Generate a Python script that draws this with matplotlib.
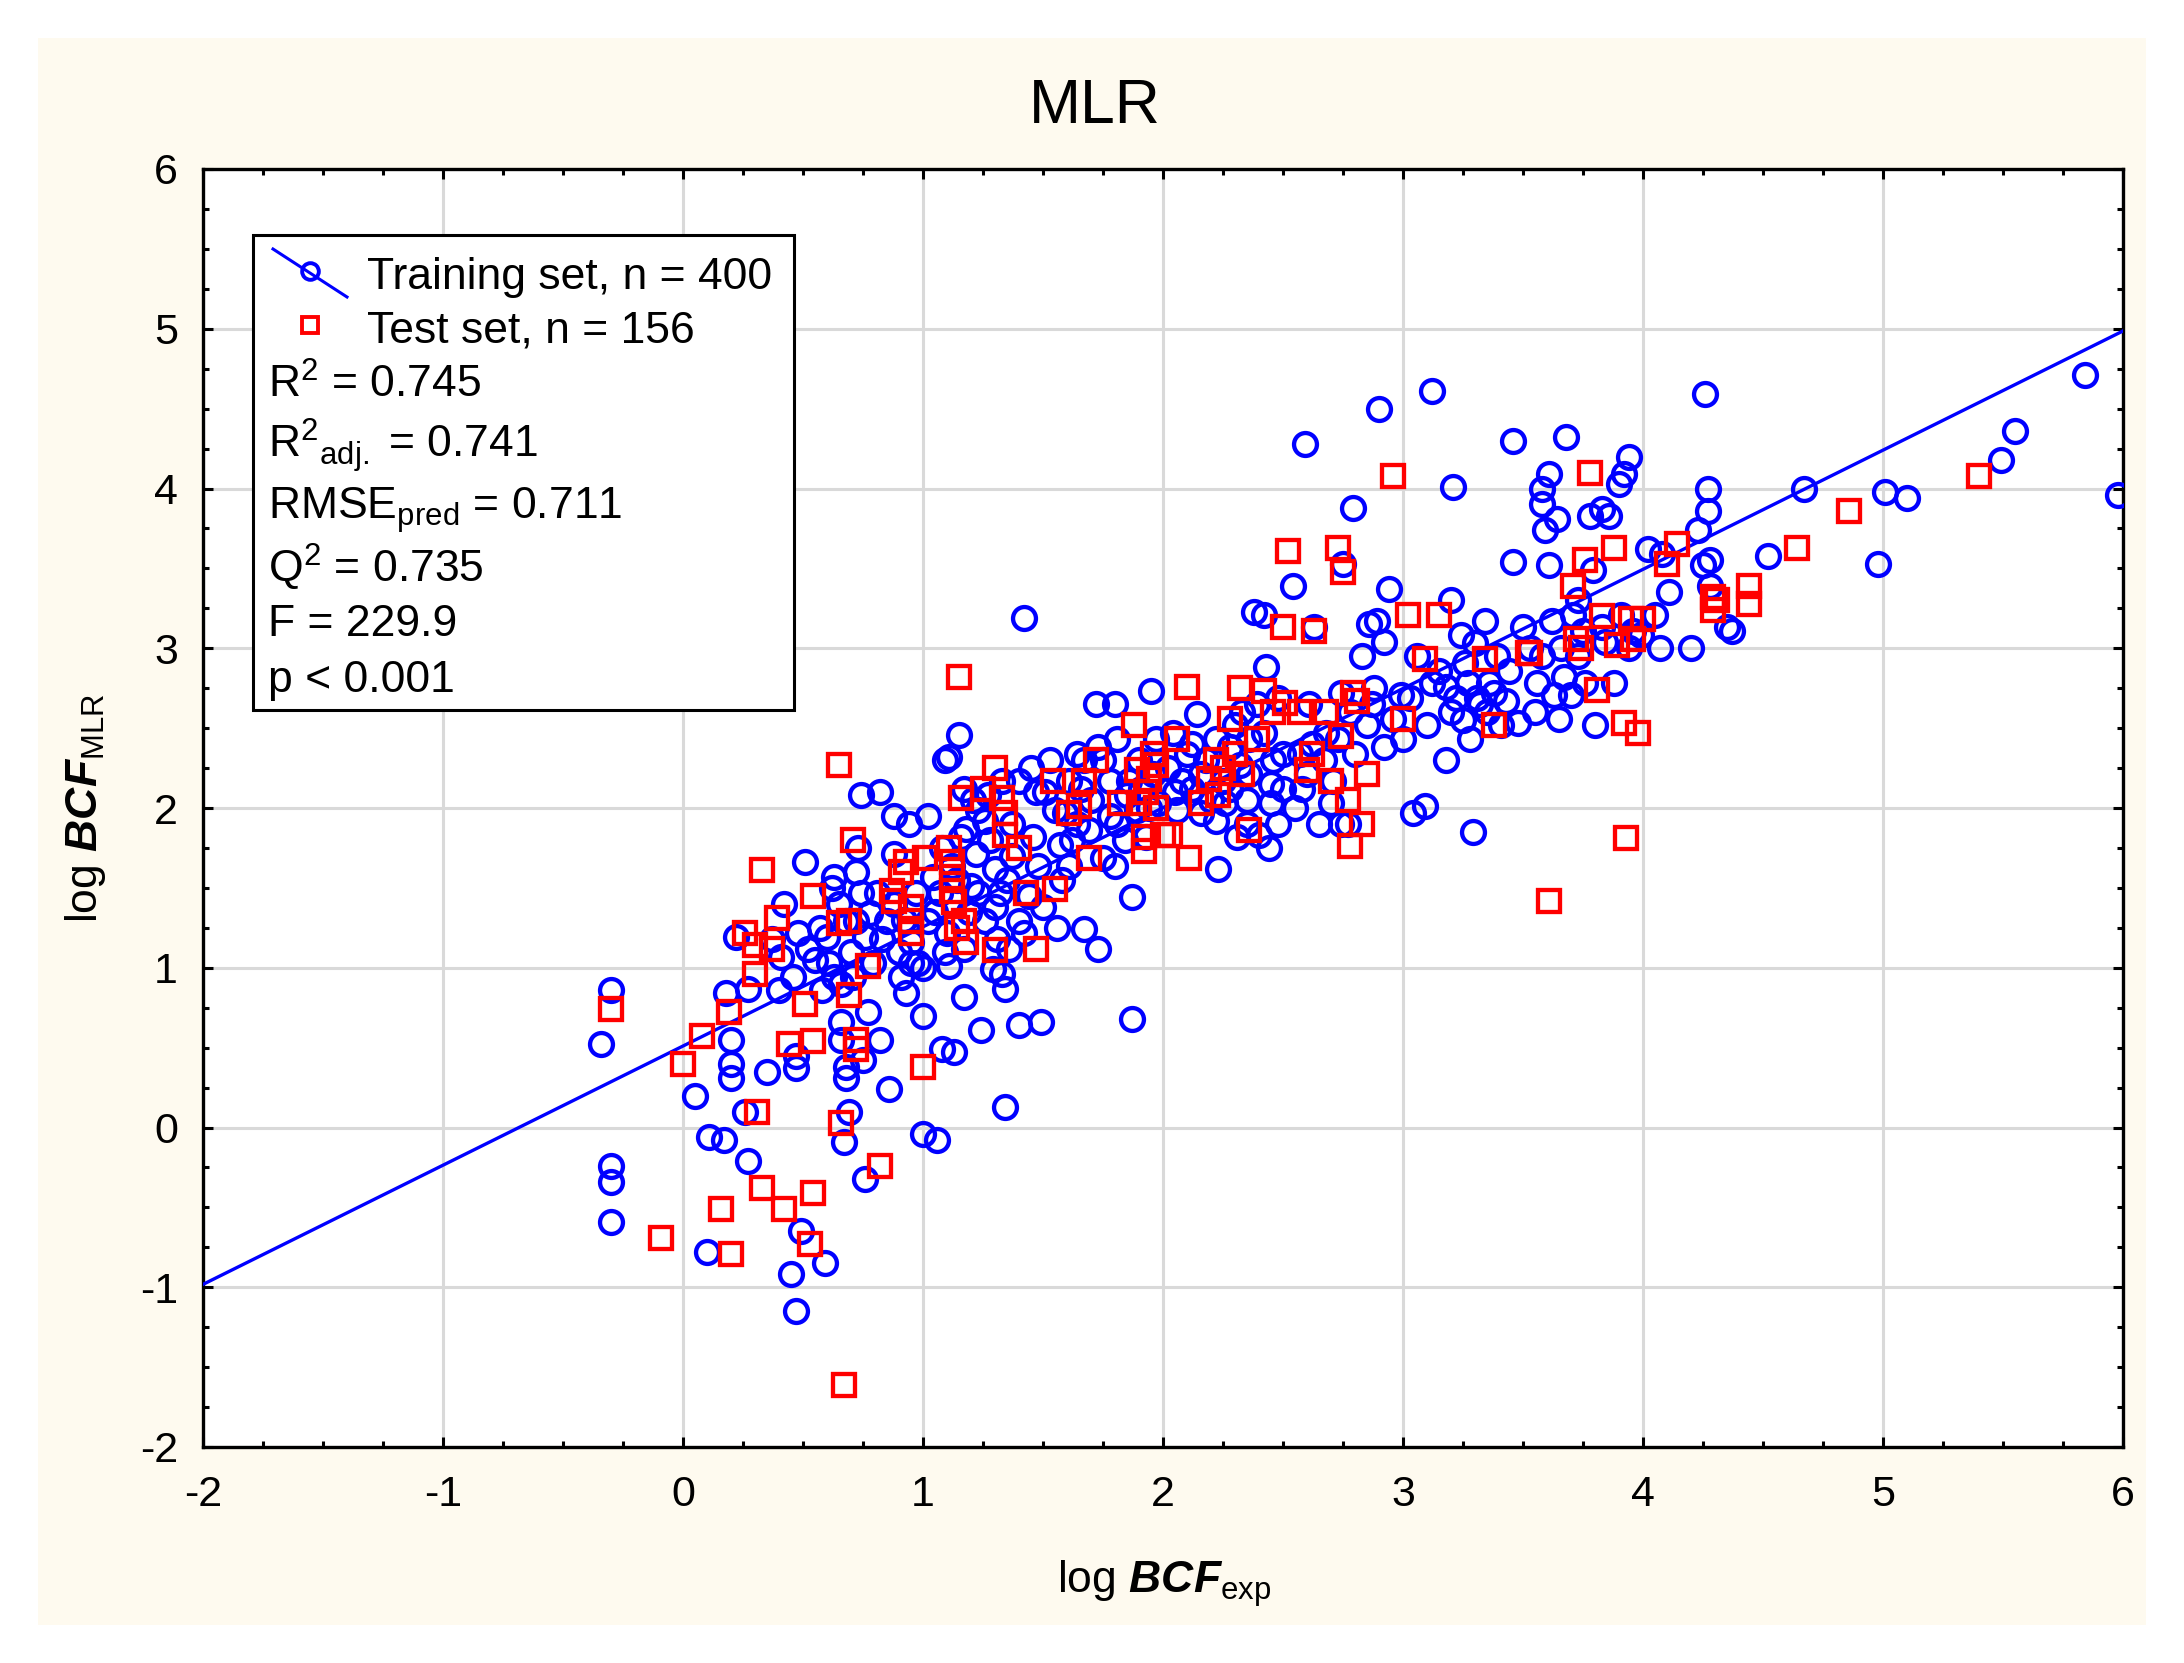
"""MLR model: predicted vs experimental log BCF (training / test sets)."""
import matplotlib
matplotlib.use("Agg")
import matplotlib.pyplot as plt
import numpy as np
from matplotlib.lines import Line2D
from matplotlib.patches import Rectangle
from matplotlib.ticker import MultipleLocator

W, H = 2184, 1663

# data: (log BCF exp, log BCF MLR)
train_pts = [
    (-0.34, 0.52), (-0.30, 0.86), (-0.30, -0.24), (-0.30, -0.34), (-0.30, -0.59),
    (0.05, 0.20), (0.10, -0.78), (0.11, -0.06), (0.17, -0.08), (0.18, 0.84),
    (0.20, 0.55), (0.20, 0.40), (0.20, 0.31), (0.22, 1.19), (0.26, 0.10),
    (0.27, -0.21), (0.27, 0.87), (0.35, 0.35), (0.40, 0.86), (0.42, 1.40),
    (0.45, -0.92), (0.47, -1.15), (0.47, 0.45), (0.47, 0.37), (0.49, -0.65),
    (0.41, 1.07), (0.37, 1.18), (0.51, 1.66), (0.48, 1.22), (0.52, 1.12),
    (0.55, 1.05), (0.46, 0.94),
    (0.59, -0.85), (0.58, 0.86), (0.60, 1.19), (0.63, 1.57), (0.65, 1.40),
    (0.66, 0.90), (0.66, 0.66), (0.66, 0.55), (0.68, 0.31), (0.68, 0.38),
    (0.67, -0.09), (0.69, 0.10), (0.71, 0.94), (0.72, 1.60), (0.73, 1.75),
    (0.74, 2.08), (0.75, 0.42), (0.76, -0.32), (0.77, 0.72), (0.79, 1.03),
    (0.82, 2.10), (0.82, 0.55), (0.86, 0.24), (0.88, 1.71), (0.88, 1.95),
    (0.91, 0.94), (0.93, 0.84), (0.94, 1.90), (0.95, 1.03), (0.95, 1.16),
    (0.97, 1.47), (0.98, 1.03), (1.00, 1.00), (1.00, 0.70), (0.74, 1.47),
    (0.78, 1.34), (0.81, 1.47), (0.63, 0.94), (0.61, 1.03), (0.68, 1.29),
    (0.72, 1.29), (0.76, 1.19), (0.85, 1.29), (0.88, 1.40), (0.57, 1.25),
    (0.62, 1.50), (0.70, 1.10), (0.83, 1.18), (0.90, 1.10), (0.92, 1.30),
    (1.00, -0.04), (1.06, -0.08), (1.02, 1.29), (1.02, 1.95), (1.08, 0.49),
    (1.09, 2.30), (1.11, 2.32), (1.13, 0.47), (1.15, 2.46), (1.17, 0.82),
    (1.17, 2.12), (1.18, 1.87), (1.23, 1.99), (1.24, 0.61), (1.27, 2.08),
    (1.29, 0.99), (1.30, 1.62), (1.32, 1.47), (1.33, 0.96), (1.34, 0.13),
    (1.34, 0.87), (1.36, 1.12), (1.37, 1.70), (1.40, 0.64), (1.42, 3.19),
    (1.45, 2.25), (1.47, 2.10), (1.49, 0.66), (1.50, 1.38), (1.40, 1.29),
    (1.42, 1.22), (1.23, 1.47), (1.26, 1.29), (1.16, 1.82), (1.12, 1.64),
    (1.07, 1.47), (1.04, 1.57), (1.10, 1.22), (1.20, 1.51), (1.30, 1.38),
    (1.37, 1.90), (1.33, 2.17), (1.22, 1.71), (1.46, 1.82), (1.48, 1.64),
    (1.17, 1.12), (1.11, 1.01), (1.40, 2.17), (1.26, 1.92), (1.05, 1.35),
    (1.14, 1.55), (1.19, 1.35), (1.28, 1.80), (1.35, 1.55), (1.44, 1.45),
    (1.08, 1.75), (1.21, 2.05), (1.31, 1.18), (1.09, 1.10),
    (1.51, 2.10), (1.53, 2.30), (1.55, 1.99), (1.57, 1.77), (1.58, 1.55),
    (1.56, 1.25), (1.61, 2.17), (1.64, 1.90), (1.67, 2.30), (1.67, 1.24),
    (1.72, 2.65), (1.73, 1.12), (1.75, 2.30), (1.78, 2.17), (1.80, 2.65),
    (1.81, 2.43), (1.80, 1.64), (1.85, 2.08), (1.87, 1.44), (1.87, 0.68),
    (1.89, 1.99), (1.90, 2.30), (1.93, 1.82), (1.95, 2.73), (1.96, 2.21),
    (1.98, 2.03), (1.69, 1.86), (1.61, 1.64), (1.75, 1.69), (1.81, 1.90),
    (1.64, 2.34), (1.97, 2.43), (1.91, 2.12), (1.59, 1.97), (1.86, 2.17),
    (1.73, 2.38), (1.70, 2.05), (1.84, 1.80), (1.94, 2.00), (1.62, 1.80),
    (1.78, 1.95), (1.66, 2.12),
    (2.02, 2.25), (2.04, 2.47), (2.06, 1.99), (2.10, 2.34), (2.12, 2.12),
    (2.14, 2.59), (2.16, 1.97), (2.18, 2.30), (2.22, 2.43), (2.23, 1.62),
    (2.25, 2.17), (2.26, 2.03), (2.30, 2.52), (2.31, 1.82), (2.32, 2.27),
    (2.35, 1.90), (2.36, 2.43), (2.38, 3.23), (2.39, 2.65), (2.42, 3.21),
    (2.43, 2.88), (2.44, 1.75), (2.45, 2.03), (2.46, 2.30), (2.48, 1.90),
    (2.50, 2.12), (2.08, 2.17), (2.16, 2.21), (2.28, 2.12), (2.36, 2.21),
    (2.42, 2.47), (2.48, 2.69), (2.33, 2.60), (2.22, 1.92), (2.40, 1.83),
    (2.50, 2.34), (2.20, 2.05), (2.28, 2.38), (2.35, 2.05), (2.45, 2.15),
    (2.12, 2.40), (2.05, 2.10),
    (2.59, 4.28), (2.54, 3.39), (2.57, 2.34), (2.60, 2.21), (2.61, 2.65),
    (2.63, 3.13), (2.65, 1.90), (2.68, 2.47), (2.71, 2.17), (2.74, 2.72),
    (2.75, 3.53), (2.77, 1.90), (2.79, 3.88), (2.80, 2.34), (2.83, 2.95),
    (2.86, 3.15), (2.87, 2.65), (2.89, 3.17), (2.90, 4.50), (2.92, 3.04),
    (2.94, 3.37), (2.96, 2.56), (2.99, 2.71), (3.00, 2.43), (2.67, 2.30),
    (2.73, 2.43), (2.58, 2.12), (2.70, 2.03), (2.85, 2.52), (2.92, 2.38),
    (2.74, 1.90), (2.55, 2.00), (2.62, 2.40), (2.78, 2.60), (2.88, 2.75),
    (3.03, 2.69), (3.04, 1.97), (3.09, 2.01), (3.10, 2.52), (3.12, 4.61),
    (3.15, 2.86), (3.18, 2.30), (3.20, 3.30), (3.21, 4.01), (3.22, 2.69),
    (3.24, 3.08), (3.27, 2.78), (3.28, 2.43), (3.29, 1.85), (3.30, 3.03),
    (3.32, 2.65), (3.34, 3.17), (3.36, 2.78), (3.38, 2.72), (3.41, 2.52),
    (3.44, 2.86), (3.46, 4.30), (3.46, 3.54), (3.48, 2.53), (3.50, 3.13),
    (3.06, 2.95), (3.20, 2.60), (3.26, 2.91), (3.39, 2.95), (3.31, 2.69),
    (3.43, 2.67), (3.18, 2.76), (3.12, 2.78), (3.25, 2.55), (3.35, 2.60),
    (3.53, 3.00), (3.55, 2.60), (3.58, 4.00), (3.58, 3.90), (3.59, 3.74),
    (3.61, 3.52), (3.61, 4.09), (3.62, 3.17), (3.63, 2.71), (3.64, 3.81),
    (3.65, 2.56), (3.66, 3.00), (3.68, 4.32), (3.70, 2.71), (3.71, 3.21),
    (3.73, 3.30), (3.73, 2.95), (3.75, 3.11), (3.78, 3.83), (3.79, 3.49),
    (3.80, 2.52), (3.83, 3.87), (3.83, 3.13), (3.86, 3.83), (3.88, 2.78),
    (3.90, 4.03), (3.91, 3.21), (3.92, 4.09), (3.94, 4.20), (3.94, 3.00),
    (3.96, 3.11), (3.99, 3.08), (3.56, 2.78), (3.67, 2.82), (3.58, 2.95),
    (3.76, 2.78), (3.84, 3.04),
    (4.02, 3.62), (4.07, 3.00), (4.08, 3.59), (4.20, 3.00), (4.23, 3.74),
    (4.25, 3.52), (4.26, 4.59), (4.27, 4.00), (4.27, 3.86), (4.28, 3.55),
    (4.35, 3.13), (4.37, 3.11), (4.52, 3.58), (4.67, 4.00), (4.98, 3.53),
    (5.01, 3.98), (5.10, 3.94), (5.49, 4.18), (5.55, 4.36), (5.84, 4.71),
    (5.98, 3.96), (4.11, 3.35), (4.05, 3.21), (4.28, 3.39),
]

test_pts = [
    (-0.30, 0.74), (-0.09, -0.69), (0.00, 0.40),
    (0.08, 0.57), (0.16, -0.51), (0.19, 0.72), (0.20, -0.79), (0.26, 1.22),
    (0.30, 1.14), (0.31, 0.10), (0.33, -0.38), (0.33, 1.61), (0.30, 0.96),
    (0.37, 1.12), (0.39, 1.31), (0.42, -0.51), (0.44, 0.52), (0.51, 0.77),
    (0.53, -0.73), (0.54, -0.41), (0.54, 0.54), (0.54, 1.45),
    (0.65, 2.27), (0.66, 0.03), (0.67, -1.61), (0.69, 0.83), (0.71, 1.80),
    (0.72, 0.55), (0.72, 0.49), (0.69, 1.29), (0.65, 1.28), (0.77, 1.01),
    (0.82, -0.24), (0.87, 1.48), (0.88, 1.42), (0.91, 1.60), (0.93, 1.66),
    (0.95, 1.29), (0.95, 1.38), (0.95, 1.22), (1.00, 0.38), (1.01, 1.69),
    (1.15, 2.82), (1.11, 1.75), (1.12, 1.66), (1.12, 1.57), (1.12, 1.48),
    (1.13, 1.41), (1.14, 1.25), (1.16, 2.06), (1.17, 1.29), (1.18, 1.16),
    (1.25, 2.12), (1.30, 2.25), (1.30, 1.11), (1.34, 1.97), (1.34, 1.83),
    (1.40, 1.75), (1.43, 1.47), (1.47, 1.12), (1.55, 1.49), (1.33, 2.06),
    (1.54, 2.17), (1.61, 1.97), (1.67, 2.17), (1.69, 1.69), (1.72, 2.30),
    (1.88, 2.52), (1.89, 2.24), (1.90, 2.03), (1.92, 1.82), (1.92, 1.73),
    (1.94, 2.18), (1.96, 2.34), (1.97, 2.27), (2.00, 1.83), (1.82, 2.03),
    (1.65, 2.01), (1.97, 2.00), (1.93, 2.10),
    (2.03, 1.83), (2.06, 2.43), (2.10, 2.76), (2.11, 1.69), (2.16, 2.03),
    (2.19, 2.18), (2.22, 2.30), (2.23, 2.08), (2.25, 2.25), (2.28, 2.56),
    (2.30, 2.34), (2.32, 2.75), (2.33, 2.21), (2.36, 1.86), (2.39, 2.43),
    (2.42, 2.73), (2.46, 2.60), (2.52, 3.61), (2.50, 3.13), (2.51, 2.66),
    (2.57, 2.60), (2.60, 2.24), (2.63, 3.11), (2.68, 2.60), (2.70, 2.17),
    (2.73, 3.63), (2.75, 3.48), (2.77, 2.05), (2.78, 1.76), (2.79, 2.72),
    (2.81, 2.67), (2.83, 1.90), (2.85, 2.21), (2.96, 4.08), (3.00, 2.56),
    (3.02, 3.21), (2.74, 2.45), (2.62, 2.34),
    (3.09, 2.93), (3.15, 3.21), (3.34, 2.93), (3.38, 2.52), (3.52, 2.97),
    (3.53, 2.97), (3.61, 1.42), (3.71, 3.39), (3.72, 3.06), (3.74, 3.00),
    (3.76, 3.55), (3.78, 4.10), (3.81, 2.74), (3.83, 3.20), (3.88, 3.63),
    (3.89, 3.02), (3.92, 2.53), (3.93, 1.81), (3.95, 3.18), (3.98, 2.47),
    (4.00, 3.18), (3.96, 3.06),
    (4.10, 3.53), (4.14, 3.65), (4.29, 3.32), (4.29, 3.24), (4.44, 3.39),
    (4.44, 3.28), (4.64, 3.63), (4.86, 3.86), (5.40, 4.08), (4.31, 3.30),
]

# fitted regression line (training set)
fit_slope = 0.746
fit_intercept = 0.51

stats_lines = [
    r"R$^{2}$ = 0.745",
    r"R$^{2}{}_{\mathrm{adj.}}$ = 0.741",
    r"RMSE$_{\mathrm{pred}}$ = 0.711",
    r"Q$^{2}$ = 0.735",
    "F = 229.9",
    "p < 0.001",
]

BLUE = "#0000ff"
RED = "#ff0000"
PANEL = "#fefaef"
GRID = "#d9d9d9"

plt.rcParams["font.family"] = ["Liberation Sans", "DejaVu Sans"]
plt.rcParams["axes.unicode_minus"] = False
plt.rcParams["mathtext.fontset"] = "custom"
plt.rcParams["mathtext.rm"] = "Liberation Sans"
plt.rcParams["mathtext.it"] = "Liberation Sans:italic"
plt.rcParams["mathtext.bf"] = "Liberation Sans:bold"
plt.rcParams["mathtext.bfit"] = "Liberation Sans:bold:italic"


def fx(px):
    return px / W


def fy(py):
    return 1 - py / H


fig = plt.figure(figsize=(W / 100, H / 100), dpi=100)
fig.patch.set_facecolor("white")
fig.add_artist(Rectangle((fx(38), fy(1625)), fx(2146) - fx(38), fy(38) - fy(1625),
                         transform=fig.transFigure, facecolor=PANEL,
                         edgecolor="none", zorder=-10))

ax = fig.add_axes([fx(203), fy(1447), fx(2123) - fx(203), fy(169) - fy(1447)])
ax.set_facecolor("white")

train_x, train_y = np.array(train_pts).T
test_x, test_y = np.array(test_pts).T

ax.plot(train_x, train_y, "o", ms=16.5, mfc="none", mec=BLUE, mew=3.1, zorder=3)
xl = np.array([-2, 6])
ax.plot(xl, fit_slope * xl + fit_intercept, color=BLUE, lw=2.4, zorder=4)
ax.plot(test_x, test_y, "s", ms=16.5, mfc="none", mec=RED, mew=3.1, zorder=5)

ax.set_xlim(-2, 6)
ax.set_ylim(-2, 6)
ax.xaxis.set_major_locator(MultipleLocator(1))
ax.yaxis.set_major_locator(MultipleLocator(1))
ax.xaxis.set_minor_locator(MultipleLocator(0.25))
ax.yaxis.set_minor_locator(MultipleLocator(0.25))
ax.grid(True, which="major", color=GRID, lw=2.2, zorder=0)
ax.set_axisbelow(True)
for s in ax.spines.values():
    s.set_linewidth(2.4)
ax.tick_params(which="both", direction="in", top=True, right=True, width=2.2)
ax.tick_params(which="major", length=7)
ax.tick_params(which="minor", length=4)
ax.tick_params(axis="x", labelsize=31, pad=20)
ax.tick_params(axis="y", labelsize=31, pad=18)

fig.text(fx(1095), fy(123), "MLR", fontsize=45, ha="center", va="baseline")
fig.text(fx(1164), fy(1593), r"log $\mathbfit{BCF}_{\mathrm{exp}}$", fontsize=32,
         ha="center", va="baseline")
fig.text(fx(85), fy(808), r"log $\mathbfit{BCF}_{\mathrm{MLR}}$", fontsize=32,
         ha="center", va="center", rotation=90)

# legend / statistics box
fig.add_artist(Rectangle((fx(253), fy(710)), fx(794) - fx(253), fy(235) - fy(710),
                         transform=fig.transFigure, facecolor="white",
                         edgecolor="black", lw=2.2, zorder=6))
fig.add_artist(Line2D([fx(273), fx(347)], [fy(249), fy(297)], transform=fig.transFigure,
                      color=BLUE, lw=2.2, zorder=7))
fig.add_artist(Line2D([fx(310)], [fy(271)], transform=fig.transFigure, marker="o",
                      ms=12, mfc="none", mec=BLUE, mew=2.8, zorder=7))
fig.add_artist(Line2D([fx(310)], [fy(325)], transform=fig.transFigure, marker="s",
                      ms=12, mfc="none", mec=RED, mew=2.8, zorder=7))
fig.text(fx(367), fy(273 + 16), "Training set, n = 400", fontsize=32,
         va="baseline", zorder=8)
fig.text(fx(367), fy(326 + 16), "Test set, n = 156", fontsize=32,
         va="baseline", zorder=8)
row_y = [382, 442, 503, 567, 620, 676]
for txt, yy in zip(stats_lines, row_y):
    fig.text(fx(268), fy(yy + 16), txt, fontsize=32, va="baseline", zorder=8)

fig.savefig("out.png", dpi=100, facecolor="white")
